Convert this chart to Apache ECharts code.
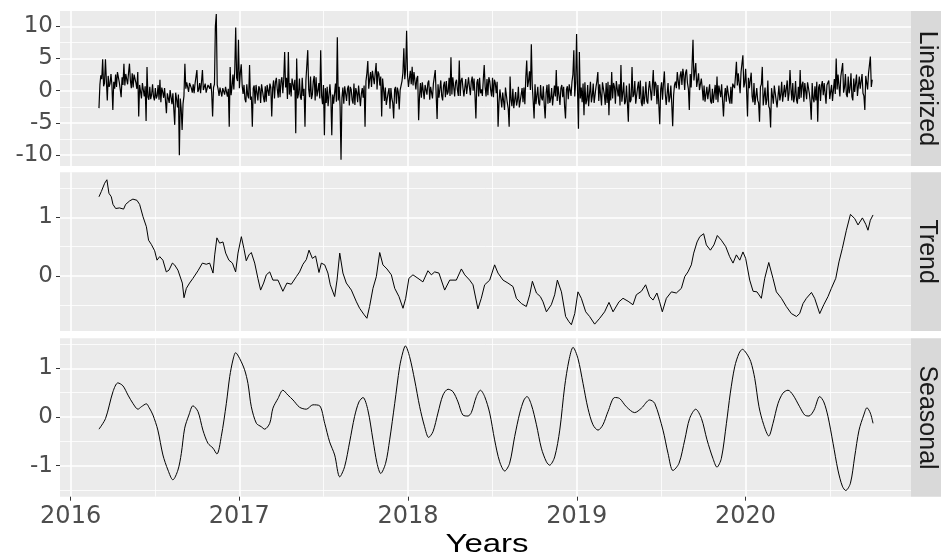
<!DOCTYPE html>
<html><head><meta charset="utf-8">
<script src="https://cdn.jsdelivr.net/npm/echarts@6/dist/echarts.min.js"></script>
<style>html,body{margin:0;padding:0;background:#fff}#c{width:941px;height:557px}</style>
</head><body><div id="c"></div>
<script>
// ---------- DATA ----------
const yearTicks = [2016, 2017, 2018, 2019, 2020];
const halfYearTicks = [2016.5, 2017.5, 2018.5, 2019.5, 2020.5];
const panelNames = ['Linearized', 'Trend', 'Seasonal'];
const linTicks = [-10, -5, 0, 5, 10];
const trendTicks = [0, 1];
const seasonalTicks = [-1, 0, 1];

// Linearized: one reading every 2 days starting at 2016.168
const linStartYear = 2016.168;
const linStepDays = 2;
const linValues = [
-2.7,0.9,2.4,1.8,4.9,0.7,1.2,4.9,1.6,-1.5,2.3,0.6,1.1,2.6,0.9,
-3.0,1.4,0.3,2.5,0.6,2.9,2.8,1.3,0.2,-1.0,2.1,0.9,4.2,0.8,2.6,
2.4,1.0,2.8,4.2,1.6,0.4,2.7,0.5,2.5,2.2,1.2,0.3,2.9,-4.0,0.9,
0.8,-1.2,1.2,1.1,-0.9,0.7,-4.7,3.7,-1.0,-1.4,0.6,-1.3,-0.6,1.0,-0.9,
-1.5,0.4,-1.2,-0.8,0.9,-1.4,1.7,-1.8,0.5,-0.2,-1.1,0.4,0.3,-3.5,-0.4,
-0.5,-1.9,0.1,-0.2,-2.1,-0.4,-0.7,-5.3,-0.3,-1.3,-2.6,-0.6,-10.0,-1.2,-2.8,
-6.1,-2.0,-0.8,4.2,0.3,1.3,1.1,-0.2,1.2,1.2,0.4,-0.3,1.0,-0.4,1.1,
0.9,3.2,-0.2,0.2,1.2,-0.4,-0.3,3.2,0.1,0.6,1.1,-0.3,-0.4,0.9,1.2,
0.3,1.2,-0.3,-4.0,0.5,1.0,10.0,11.9,0.9,0.2,-0.8,0.5,0.6,-0.9,0.4,
0.5,-0.6,0.6,0.4,-0.9,0.3,-5.6,3.7,-0.7,0.6,2.5,0.2,3.3,9.8,2.0,
1.5,7.9,0.4,2.8,4.1,0.8,-0.5,0.9,-1.3,-1.8,1.0,-0.7,-1.2,4.0,-1.4,
-0.9,-5.6,0.4,0.8,-2.0,0.9,1.1,-1.5,0.7,0.3,-1.9,1.0,0.9,-1.0,-1.8,
0.7,-1.7,0.9,1.0,-0.8,1.1,0.5,-4.0,0.4,1.6,-1.2,1.3,2.0,0.2,-1.1,
1.8,-1.0,1.5,2.1,-0.4,1.8,6.0,0.5,2.0,-1.3,6.0,-0.6,1.2,-0.9,1.9,
2.2,0.1,1.7,-6.6,5.0,-1.2,-0.5,1.9,-1.0,-1.4,2.0,-0.8,0.3,-5.6,1.6,
1.4,6.3,0.2,-1.0,2.2,-1.3,-0.6,1.5,2.3,-1.5,2.1,-0.9,0.0,1.2,-1.2,
6.3,-0.8,-2.1,0.9,-6.9,0.4,-1.9,0.6,-2.4,-2.3,1.0,-1.2,-6.9,-0.6,-2.0,
-2.2,1.1,-1.7,8.3,-1.5,0.6,-2.4,-10.7,-1.1,0.5,-2.0,0.7,1.0,-1.6,0.3,
0.8,-2.3,0.6,0.2,-1.4,-2.0,1.1,-2.2,0.4,-0.3,-1.8,0.8,0.9,-2.4,-0.5,
0.4,-1.1,0.8,-5.6,1.5,2.7,4.6,0.3,1.8,2.9,0.6,3.1,3.4,1.0,2.8,
4.3,0.2,3.0,2.6,0.8,2.2,-4.0,1.9,0.3,-1.6,0.5,-2.2,-2.5,-0.3,0.4,
-2.8,0.4,-1.2,-1.9,-4.3,0.2,0.6,-2.0,0.5,-0.2,-2.9,0.1,0.3,1.5,2.8,
6.6,1.8,3.4,9.3,2.4,0.6,0.4,3.1,1.0,3.7,0.8,2.9,2.6,0.2,1.9,
2.3,-4.6,-0.8,1.2,-1.1,1.3,1.5,-1.3,0.9,0.7,-0.6,1.2,1.6,-1.4,0.6,
0.9,-1.2,1.1,1.3,3.2,-0.7,-4.4,1.0,-1.1,-0.9,1.6,-0.8,-1.5,0.8,1.4,
-1.0,1.5,-0.6,-0.2,2.0,-0.8,5.2,-0.6,2.1,1.9,-0.9,1.3,1.7,0.1,-0.8,
4.7,-0.8,1.6,2.0,0.4,-0.9,-1.0,1.8,-0.5,-0.3,2.1,0.6,-0.7,1.4,2.2,
0.0,1.9,-0.7,-4.3,1.2,1.8,-0.9,2.0,-0.4,0.2,-0.8,1.7,4.0,0.6,-0.9,
1.8,-0.7,2.1,1.5,0.1,-0.9,2.0,-1.0,1.7,1.2,-0.4,1.4,-5.6,-1.8,0.2,
0.4,-2.6,-0.3,-0.5,-3.0,0.5,0.2,-1.9,-2.8,-5.6,2.2,-1.4,-2.4,0.3,-2.7,
-2.8,-0.2,-2.3,-1.5,0.6,-2.6,-2.9,-0.6,0.4,-1.8,0.5,-2.1,2.0,4.7,0.6,
1.5,3.0,0.1,7.2,0.8,-1.6,-4.3,1.0,-2.1,-1.8,0.6,-1.9,-2.3,0.9,-1.1,
-1.5,0.7,-2.2,-4.3,-0.3,0.9,-2.0,1.0,-1.9,-1.2,0.4,-2.3,-2.5,0.8,-0.9,
3.2,-1.6,0.7,0.5,-2.2,0.4,0.9,-1.0,0.6,-2.4,-4.3,0.2,0.7,-1.3,1.0,
1.0,-0.8,1.4,2.5,6.3,-0.9,1.2,8.8,0.2,-5.9,6.0,-1.2,0.5,-1.8,1.1,
-3.8,1.3,-2.1,-1.5,0.9,-2.4,-2.2,1.4,-1.8,-0.8,1.1,-1.9,-2.0,0.6,1.5,
2.9,-1.6,1.0,0.8,-2.3,1.3,1.5,-0.6,-2.2,1.2,-1.9,1.4,-3.8,0.9,-1.5,
2.9,-1.2,1.2,0.6,-2.0,1.5,1.4,-0.9,1.0,-2.3,4.0,-1.7,-0.4,1.3,-2.1,
-1.7,0.8,-1.9,-4.8,1.1,-1.8,-1.4,3.7,-1.0,-0.6,1.5,-2.0,-2.2,0.5,1.4,
-1.3,1.6,-1.8,-2.4,0.7,-2.1,-0.9,1.4,-1.6,-2.0,0.3,1.5,1.2,-1.5,0.8,
3.2,-0.8,1.4,1.0,-2.1,0.9,0.6,-5.2,0.2,1.3,-1.4,1.1,3.0,-0.5,-2.2,
-2.3,1.2,-1.8,-1.0,0.8,-2.0,-5.5,-0.7,0.9,1.4,0.4,2.9,2.6,0.2,2.3,
3.0,0.9,3.4,2.4,0.1,2.8,3.3,1.2,0.3,-3.0,2.6,0.5,4.0,7.9,1.6,
1.8,4.3,0.6,0.5,2.7,0.1,0.2,1.9,0.4,-1.5,0.8,-1.7,-1.9,0.6,-1.3,
-1.2,1.0,-1.6,-2.0,0.3,-1.9,-1.6,0.9,-1.4,2.2,-1.8,0.8,0.5,-1.0,1.0,
1.1,-4.0,-0.9,0.4,-1.7,0.8,0.9,-1.3,-2.0,0.6,-2.0,1.1,1.0,0.4,2.3,
4.5,0.8,2.7,3.0,-0.4,2.9,2.6,5.5,0.5,1.2,3.4,0.1,-4.0,2.0,0.4,
0.3,2.8,-0.9,-1.8,1.2,-2.2,-2.5,0.4,-1.5,-1.9,-4.8,0.6,1.0,3.7,-2.3,
-2.6,0.5,-2.2,-1.4,1.6,-2.4,-2.8,-5.7,0.4,0.2,-2.0,0.8,1.1,-1.5,-2.6,
-2.9,0.8,-1.5,-0.6,1.4,-1.7,-1.8,0.9,-1.0,-1.2,1.6,-1.6,-0.4,3.2,0.3,
-1.5,1.2,-1.8,-0.9,1.5,-1.4,-2.0,0.6,-1.3,3.2,-1.1,0.9,1.4,-1.7,1.2,
0.9,-1.3,1.3,1.6,-0.5,-1.9,-4.5,1.2,-1.2,-1.8,0.7,-1.5,1.4,-4.8,0.5,
1.0,-1.6,0.8,1.5,-0.7,1.2,1.3,-2.0,0.9,0.6,1.6,-1.3,-1.2,0.9,-1.6,
-1.4,1.8,-0.5,5.0,0.2,2.5,2.4,-0.9,2.2,2.0,4.3,-0.3,0.5,2.6,-0.6,
-1.0,2.2,-0.4,0.4,2.7,-0.9,-1.5,1.9,-0.2,0.1,2.5,-0.8,-0.6,2.2,0.3,
0.3,2.6,-0.4,-0.8,-3.0,2.3,2.4,0.2,2.7,3.0,5.3,0.6,1.7
];

// Trend: years since 2016 and values
const trendYearOffsets = [
.168,.182,.191,.2015,.215,.227,.241,.251,.267,.290,.314,.326,.350,.369,.393,.409,.429,.449,.462,.478,
.498,.512,.528,.547,.567,.583,.603,.616,.636,.646,.662,.672,.686,.705,.725,.755,.781,.804,.824,.844,
.854,.867,.883,.903,.919,.938,.959,.978,.992,1.012,1.027,1.041,1.057,1.071,1.091,1.110,1.126,1.144,1.160,1.180,
1.199,1.229,1.258,1.282,1.308,1.338,1.357,1.377,1.397,1.413,1.433,1.452,1.472,1.486,1.506,1.525,1.539,1.565,1.579,1.595,
1.614,1.634,1.664,1.694,1.713,1.737,1.756,1.772,1.792,1.812,1.832,1.851,1.875,1.901,1.921,1.946,1.970,1.986,2.005,2.029,
2.059,2.088,2.118,2.138,2.158,2.183,2.217,2.247,2.286,2.316,2.336,2.365,2.385,2.414,2.434,2.454,2.484,2.513,2.533,2.563,
2.592,2.622,2.642,2.672,2.701,2.721,2.737,2.761,2.784,2.800,2.820,2.849,2.869,2.885,2.909,2.934,2.954,2.968,2.988,3.007,
3.027,3.053,3.076,3.106,3.136,3.165,3.191,3.215,3.250,3.274,3.304,3.333,3.353,3.383,3.408,3.432,3.452,3.475,3.491,3.507,
3.531,3.561,3.590,3.620,3.640,3.659,3.679,3.693,3.713,3.729,3.752,3.768,3.792,3.813,3.833,3.857,3.883,3.906,3.926,3.946,
3.966,3.985,4.001,4.025,4.045,4.068,4.094,4.114,4.138,4.163,4.183,4.213,4.242,4.272,4.302,4.321,4.341,4.361,4.391,4.410,
4.440,4.464,4.489,4.509,4.535,4.554,4.574,4.598,4.622,4.647,4.667,4.693,4.713,4.726,4.740,4.756
];
const trendValues = [
1.35,1.44,1.47,1.58,1.64,1.41,1.35,1.22,1.15,1.16,1.14,1.22,1.28,1.31,1.29,1.22,1.01,0.84,0.61,0.54,
0.43,0.27,0.33,0.27,0.07,0.10,0.22,0.19,0.10,0.13,-0.12,-0.37,-0.21,-0.12,-0.04,0.09,0.22,0.20,0.22,0.05,
0.36,0.65,0.56,0.58,0.39,0.27,0.22,0.07,0.39,0.67,0.47,0.26,0.36,0.40,0.22,-0.04,-0.24,-0.12,0.02,0.07,
-0.07,-0.07,-0.26,-0.12,-0.14,-0.01,0.07,0.20,0.28,0.44,0.30,0.34,0.06,0.22,0.19,0.05,-0.15,-0.35,-0.07,0.39,
0.05,-0.12,-0.24,-0.44,-0.55,-0.65,-0.72,-0.52,-0.21,-0.01,0.40,0.19,0.12,0.02,-0.21,-0.35,-0.55,-0.38,-0.04,0.02,
-0.04,-0.10,0.09,0.02,0.07,0.05,-0.24,-0.07,-0.07,0.12,0.02,-0.07,-0.15,-0.56,-0.38,-0.15,-0.07,0.19,0.05,-0.07,
-0.12,-0.18,-0.38,-0.47,-0.52,-0.32,-0.09,-0.29,-0.35,-0.44,-0.61,-0.49,-0.32,-0.07,-0.27,-0.69,-0.78,-0.83,-0.64,-0.27,
-0.38,-0.61,-0.69,-0.82,-0.72,-0.61,-0.45,-0.61,-0.44,-0.38,-0.43,-0.49,-0.32,-0.26,-0.15,-0.35,-0.41,-0.29,-0.44,-0.61,
-0.38,-0.27,-0.29,-0.21,-0.01,0.07,0.19,0.39,0.58,0.67,0.72,0.53,0.44,0.53,0.69,0.61,0.50,0.33,0.22,0.36,
0.27,0.41,0.30,-0.07,-0.26,-0.27,-0.38,-0.04,0.23,-0.04,-0.27,-0.38,-0.52,-0.64,-0.69,-0.64,-0.47,-0.38,-0.28,-0.38,
-0.64,-0.49,-0.35,-0.21,-0.04,0.24,0.47,0.78,1.05,0.98,0.87,0.99,0.88,0.78,0.95,1.04
];

// Seasonal: years since 2016 and values
const seasonalYearOffsets = [
.168,.207,.251,.280,.310,.340,.369,.399,.419,.449,.464,.488,.517,.547,.577,.606,.636,.656,.676,.701,
.725,.755,.784,.814,.844,.867,.893,.923,.943,.962,.978,1.002,1.031,1.051,1.071,1.101,1.130,1.150,1.180,1.199,
1.229,1.258,1.288,1.318,1.357,1.397,1.436,1.476,1.506,1.535,1.565,1.595,1.624,1.654,1.683,1.709,1.733,1.762,1.792,1.816,
1.838,1.867,1.891,1.921,1.950,1.970,1.984,2.009,2.039,2.069,2.098,2.122,2.148,2.177,2.207,2.237,2.266,2.296,2.325,2.355,
2.375,2.405,2.429,2.454,2.484,2.513,2.543,2.573,2.602,2.632,2.662,2.687,2.705,2.731,2.761,2.790,2.820,2.839,2.869,2.899,
2.928,2.954,2.978,3.007,3.037,3.066,3.096,3.126,3.155,3.185,3.225,3.254,3.294,3.343,3.383,3.432,3.462,3.511,3.541,3.570,
3.606,3.640,3.669,3.705,3.739,3.772,3.807,3.831,3.857,3.887,3.910,3.936,3.962,3.982,4.005,4.031,4.055,4.080,4.108,4.138,
4.163,4.193,4.222,4.252,4.282,4.321,4.351,4.376,4.406,4.440,4.464,4.489,4.519,4.548,4.574,4.594,4.622,4.647,4.673,4.701,
4.720,4.740,4.756
];
const seasonalValues = [
-0.25,-0.03,0.52,0.70,0.64,0.45,0.28,0.16,0.21,0.27,0.20,0.04,-0.27,-0.78,-1.09,-1.29,-1.09,-0.75,-0.23,0.04,
0.23,0.11,-0.27,-0.54,-0.64,-0.76,-0.40,0.28,0.83,1.17,1.32,1.20,0.97,0.69,0.21,-0.13,-0.20,-0.25,-0.13,0.18,
0.38,0.55,0.45,0.35,0.20,0.16,0.25,0.23,-0.13,-0.51,-0.78,-1.23,-1.02,-0.51,0.01,0.31,0.40,0.14,-0.47,-0.95,
-1.16,-0.95,-0.47,0.28,1.03,1.34,1.46,1.24,0.76,0.21,-0.20,-0.42,-0.30,0.08,0.45,0.57,0.52,0.31,0.04,0.02,
0.09,0.42,0.55,0.42,0.08,-0.47,-0.92,-1.11,-0.95,-0.40,0.08,0.35,0.42,0.25,-0.16,-0.64,-0.92,-0.99,-0.82,-0.27,
0.62,1.17,1.43,1.20,0.69,0.18,-0.16,-0.27,-0.16,0.11,0.40,0.38,0.21,0.09,0.18,0.35,0.28,-0.27,-0.75,-1.10,
-0.95,-0.47,-0.03,0.16,-0.03,-0.47,-0.85,-1.03,-0.85,-0.13,0.49,1.03,1.31,1.39,1.31,1.14,0.79,0.21,-0.16,-0.39,
-0.13,0.28,0.49,0.55,0.45,0.21,0.04,0.02,0.14,0.42,0.31,0.01,-0.54,-1.09,-1.42,-1.51,-1.36,-0.82,-0.27,0.04,
0.19,0.08,-0.13
];

// ---------- CHART ----------
const baseYear = 2016;
const X_MIN = 2015.937, X_MAX = 2020.981;
const layout = [
  {top: 11, height: 155, min: -11.69, max: 12.38, major: linTicks, minor: [-7.5, -2.5, 2.5, 7.5]},
  {top: 172.3, height: 158.7, min: -0.937, max: 1.767, major: trendTicks, minor: [-0.5, 0.5, 1.5]},
  {top: 338.3, height: 158.4, min: -1.637, max: 1.616, major: seasonalTicks, minor: [-1.5, -0.5, 0.5, 1.5]}
];
const PL = 60, PW = 851;

const linData = linValues.map((v, i) => [linStartYear + i * linStepDays / 365.25, v]);
const trendData = trendValues.map((v, i) => [baseYear + trendYearOffsets[i], v]);
const seasonalData = seasonalValues.map((v, i) => [baseYear + seasonalYearOffsets[i], v]);

const grids = [], xAxes = [], yAxes = [], graphics = [];
layout.forEach((p, i) => {
  grids.push({left: PL, width: PW, top: p.top, height: p.height, show: true,
    backgroundColor: '#EBEBEB', borderWidth: 0, containLabel: false});
  const bottom = i === 2;
  xAxes.push({type: 'value', gridIndex: i, min: X_MIN, max: X_MAX, position: 'bottom',
    axisLine: {show: false, onZero: false},
    axisTick: {show: bottom, length: 4, customValues: yearTicks, lineStyle: {color: '#333333', width: 1}},
    axisLabel: {show: bottom, customValues: yearTicks, formatter: v => String(v), fontFamily: 'DejaVu Sans',
      fontSize: 24, color: '#4D4D4D', margin: 8},
    splitLine: {show: true, lineStyle: {color: '#FFFFFF', width: 1.6}}});
  xAxes.push({type: 'value', gridIndex: i, min: X_MIN, max: X_MAX, position: 'bottom',
    axisLine: {show: false, onZero: false}, axisTick: {show: false, customValues: halfYearTicks},
    axisLabel: {show: false, customValues: halfYearTicks},
    splitLine: {show: true, lineStyle: {color: '#FFFFFF', width: 0.8}}});
  yAxes.push({type: 'value', gridIndex: i, min: p.min, max: p.max, position: 'left',
    axisLine: {show: false, onZero: false},
    axisTick: {show: true, length: 4, customValues: p.major, lineStyle: {color: '#333333', width: 1}},
    axisLabel: {show: true, customValues: p.major, formatter: v => String(v), fontFamily: 'DejaVu Sans',
      fontSize: 23, color: '#4D4D4D', margin: 7},
    splitLine: {show: true, lineStyle: {color: '#FFFFFF', width: 1.6}}});
  yAxes.push({type: 'value', gridIndex: i, min: p.min, max: p.max, position: 'left',
    axisLine: {show: false, onZero: false}, axisTick: {show: false, customValues: p.minor},
    axisLabel: {show: false, customValues: p.minor},
    splitLine: {show: true, lineStyle: {color: '#FFFFFF', width: 0.8}}});
  graphics.push({type: 'rect', shape: {x: PL + PW, y: p.top, width: 941 - PL - PW, height: p.height},
    style: {fill: '#D9D9D9'}, silent: true});
  graphics.push({type: 'text', x: 926.5, y: p.top + p.height / 2, rotation: -Math.PI / 2,
    style: {text: panelNames[i], font: '25px "Liberation Sans", Arial, sans-serif', fill: '#1A1A1A',
      align: 'center', verticalAlign: 'middle'}, silent: true});
});
graphics.push({type: 'text', x: 487, y: 545, scaleX: 1.27,
  style: {text: 'Years', font: '26px "Liberation Sans", Arial, sans-serif', fill: '#000000',
    align: 'center', verticalAlign: 'middle'}, silent: true});

const chart = echarts.init(document.getElementById('c'), null, {renderer: 'canvas'});
chart.setOption({
  animation: false,
  backgroundColor: '#FFFFFF',
  grid: grids,
  xAxis: xAxes,
  yAxis: yAxes,
  series: [
    {type: 'line', xAxisIndex: 0, yAxisIndex: 0, data: linData, showSymbol: false, symbol: 'none',
      lineStyle: {color: '#000000', width: 1.2}, silent: true},
    {type: 'line', xAxisIndex: 2, yAxisIndex: 2, data: trendData, showSymbol: false, symbol: 'none',
      lineStyle: {color: '#000000', width: 1}, silent: true},
    {type: 'line', xAxisIndex: 4, yAxisIndex: 4, data: seasonalData, showSymbol: false, symbol: 'none',
      smooth: 0.3, lineStyle: {color: '#000000', width: 1}, silent: true}
  ],
  graphic: graphics
});
</script></body></html>
